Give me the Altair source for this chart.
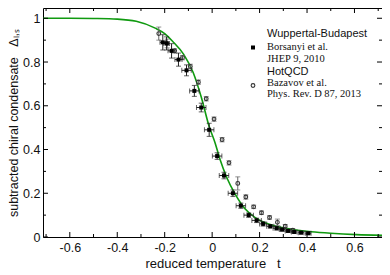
import altair as alt
import pandas as pd

# ---- data ----
curve_t = [-0.713, -0.6, -0.5, -0.4, -0.32, -0.24, -0.2, -0.167, -0.12, -0.08, -0.046,
           -0.0125, 0.0125, 0.033, 0.0625, 0.096, 0.1375, 0.18, 0.22, 0.26, 0.304,
           0.36, 0.417, 0.5, 0.608, 0.716]
curve_d = [1.000, 1.000, 0.999, 0.996, 0.986, 0.955, 0.93, 0.895, 0.835, 0.752, 0.64,
           0.505, 0.43, 0.355, 0.27, 0.198, 0.13, 0.09, 0.066, 0.052, 0.041,
           0.031, 0.024, 0.017, 0.011, 0.008]

wb_t = [-0.208, -0.192, -0.171, -0.142, -0.108, -0.075, -0.046, -0.0125, 0.021, 0.05,
        0.0875, 0.121, 0.154, 0.1875, 0.215, 0.245, 0.272, 0.295, 0.32, 0.346, 0.375, 0.405]
wb_d = [0.890, 0.885, 0.851, 0.811, 0.762, 0.668, 0.592, 0.49, 0.37, 0.281,
        0.20, 0.143, 0.10, 0.076, 0.060, 0.049, 0.040, 0.034, 0.028, 0.023, 0.020, 0.017]
wb_dy = [0.035, 0.03, 0.033, 0.03, 0.025, 0.025, 0.02, 0.03, 0.015, 0.015,
         0.015, 0.012, 0.01, 0.01, 0.01, 0.008, 0.008, 0.007, 0.007, 0.006, 0.006, 0.006]
wb_dx = [0.012, 0.012, 0.015, 0.015, 0.02, 0.02, 0.02, 0.02, 0.02, 0.02,
         0.02, 0.02, 0.02, 0.02, 0.015, 0.015, 0.015, 0.012, 0.012, 0.012, 0.012, 0.012]

hq_t = [-0.225, -0.19, -0.158, -0.125, -0.092, -0.058, -0.025, 0.008, 0.042, 0.071,
        0.108, 0.142, 0.175, 0.208, 0.242, 0.275, 0.308, 0.34]
hq_d = [0.93, 0.885, 0.851, 0.82, 0.78, 0.708, 0.632, 0.539, 0.445, 0.339,
        0.245, 0.183, 0.138, 0.111, 0.089, 0.067, 0.049, 0.031]
hq_dy = [0.03, 0.02, 0.01, 0.01, 0.01, 0.01, 0.01, 0.01, 0.01, 0.01,
         0.03, 0.01, 0.008, 0.008, 0.008, 0.015, 0.008, 0.008]

x_major = [-0.6, -0.4, -0.2, 0.0, 0.2, 0.4, 0.6]
x_minor = [-0.7, -0.5, -0.3, -0.1, 0.1, 0.3, 0.5, 0.7]
y_major = [0.0, 0.2, 0.4, 0.6, 0.8, 1.0]
y_minor = [0.1, 0.3, 0.5, 0.7, 0.9]

legend_lines = ["Wuppertal-Budapest", "Borsanyi et al.", "JHEP 9, 2010",
                "HotQCD", "Bazavov et al.", "Phys. Rev. D 87, 2013"]

W, H = 339, 229
XD = [-0.713, 0.716]
YD = [0.0, 1.047]

xs = alt.Scale(domain=XD, nice=False, zero=False)
ys = alt.Scale(domain=YD, nice=False, zero=False)

curve = pd.DataFrame({"t": curve_t, "d": curve_d})
wb = pd.DataFrame({"t": wb_t, "d": wb_d})
wb["lo"] = wb["d"] - pd.Series(wb_dy)
wb["hi"] = wb["d"] + pd.Series(wb_dy)
wb["xl"] = wb["t"] - pd.Series(wb_dx)
wb["xh"] = wb["t"] + pd.Series(wb_dx)
hq = pd.DataFrame({"t": hq_t, "d": hq_d})
hq["lo"] = hq["d"] - pd.Series(hq_dy)
hq["hi"] = hq["d"] + pd.Series(hq_dy)

FONT = "Liberation Sans"
NB = "\u00a0"

xaxis = alt.Axis(values=x_major, ticks=False, domain=False, grid=False, format="~g",
                 labelFontSize=12.5, labelFont=FONT, labelColor="#111", labelPadding=4,
                 labelExpr="replace(datum.label, '\u2212', '-')",
                 title="reduced temperature" + NB * 3 + "t", titleFont=FONT, titleFontSize=13,
                 titleFontWeight="normal", titleColor="#111", titlePadding=4)
yaxis = alt.Axis(values=y_major, ticks=False, domain=False, grid=False, format="~g",
                 labelFontSize=12.5, labelFont=FONT, labelColor="#111", labelPadding=3,
                 title="subtracted chiral condensate" + NB * 3 + "\u0394\u2097,\u209b", titleFont=FONT,
                 titleFontSize=12.5, titleFontWeight="normal", titleColor="#111", titlePadding=2)


def X(f):
    return alt.X(f, scale=xs, axis=xaxis)


def Y(f):
    return alt.Y(f, scale=ys, axis=yaxis)


line = alt.Chart(curve).mark_line(color="#109a10", strokeWidth=1.6, interpolate="monotone", clip=True).encode(
    x=X("t:Q"), y=Y("d:Q"))

base_wb = alt.Chart(wb)
wb_vbar = base_wb.mark_rule(color="#222", strokeWidth=1).encode(x=X("t:Q"), y=Y("lo:Q"), y2="hi:Q")
wb_hbar = base_wb.mark_rule(color="#222", strokeWidth=1).encode(x=X("xl:Q"), x2="xh:Q", y=Y("d:Q"))
wb_cap_hi = base_wb.mark_tick(color="#222", orient="horizontal", size=5, thickness=1).encode(x=X("t:Q"), y=Y("hi:Q"))
wb_cap_lo = base_wb.mark_tick(color="#222", orient="horizontal", size=5, thickness=1).encode(x=X("t:Q"), y=Y("lo:Q"))
wb_cap_l = base_wb.mark_tick(color="#222", orient="vertical", size=5, thickness=1).encode(x=X("xl:Q"), y=Y("d:Q"))
wb_cap_r = base_wb.mark_tick(color="#222", orient="vertical", size=5, thickness=1).encode(x=X("xh:Q"), y=Y("d:Q"))
wb_pts = base_wb.mark_square(color="black", size=16, opacity=1).encode(x=X("t:Q"), y=Y("d:Q"))

base_hq = alt.Chart(hq)
hq_vbar = base_hq.mark_rule(color="#666", strokeWidth=1).encode(x=X("t:Q"), y=Y("lo:Q"), y2="hi:Q")
hq_cap_hi = base_hq.mark_tick(color="#666", orient="horizontal", size=5, thickness=1).encode(x=X("t:Q"), y=Y("hi:Q"))
hq_cap_lo = base_hq.mark_tick(color="#666", orient="horizontal", size=5, thickness=1).encode(x=X("t:Q"), y=Y("lo:Q"))
hq_pts = base_hq.mark_point(shape="circle", filled=False, color="#333", size=14, strokeWidth=1.1, opacity=1).encode(
    x=X("t:Q"), y=Y("d:Q"))


# inward frame ticks
def xticks(vals, length):
    df = pd.DataFrame({"v": vals})
    b = alt.Chart(df).mark_rule(color="black", strokeWidth=1).encode(
        x=X("v:Q"), y=alt.value(H), y2=alt.value(H - length))
    t = alt.Chart(df).mark_rule(color="black", strokeWidth=1).encode(
        x=X("v:Q"), y=alt.value(0), y2=alt.value(length))
    return b + t


def yticks(vals, length):
    df = pd.DataFrame({"v": vals})
    l = alt.Chart(df).mark_rule(color="black", strokeWidth=1).encode(
        y=Y("v:Q"), x=alt.value(0), x2=alt.value(length))
    r = alt.Chart(df).mark_rule(color="black", strokeWidth=1).encode(
        y=Y("v:Q"), x=alt.value(W), x2=alt.value(W - length))
    return l + r


ticks = xticks(x_major, 5) + xticks(x_minor, 3) + yticks(y_major, 5) + yticks(y_minor, 3)

# legend (annotation)
leg_df = pd.DataFrame({"s": legend_lines,
                       "py": [26, 39, 50.5, 64, 75, 86],
                       "f": ["sans", "serif", "serif", "sans", "serif", "serif"]})
leg_sans = alt.Chart(leg_df[leg_df.f == "sans"]).mark_text(
    align="left", baseline="middle", font=FONT, fontSize=11, color="#111").encode(
    x=alt.value(224), y=alt.Y("py:Q", scale=None), text="s:N")
leg_serif = alt.Chart(leg_df[leg_df.f == "serif"]).mark_text(
    align="left", baseline="middle", font="Liberation Serif", fontSize=10.5, color="#111").encode(
    x=alt.value(224), y=alt.Y("py:Q", scale=None), text="s:N")
leg_sq = alt.Chart(pd.DataFrame({"a": [0]})).mark_square(color="black", size=16, opacity=1).encode(
    x=alt.value(210), y=alt.value(39.5))
leg_ci = alt.Chart(pd.DataFrame({"a": [0]})).mark_point(shape="circle", filled=False, color="#333",
                                                        size=14, strokeWidth=1.1, opacity=1).encode(
    x=alt.value(210), y=alt.value(77.5))

chart = alt.layer(
    line, ticks,
    hq_vbar, hq_cap_hi, hq_cap_lo, hq_pts,
    wb_vbar, wb_hbar, wb_cap_hi, wb_cap_lo, wb_cap_l, wb_cap_r, wb_pts,
    leg_sans, leg_serif, leg_sq, leg_ci,
).properties(
    width=W, height=H,
    autosize=alt.AutoSizeParams(type="none"),
    padding={"left": 35, "top": 0, "right": 0, "bottom": 33},
    background="white",
).configure_view(stroke="black", strokeWidth=1)

chart.save("out.html", embed_options={"renderer": "svg", "actions": False})
